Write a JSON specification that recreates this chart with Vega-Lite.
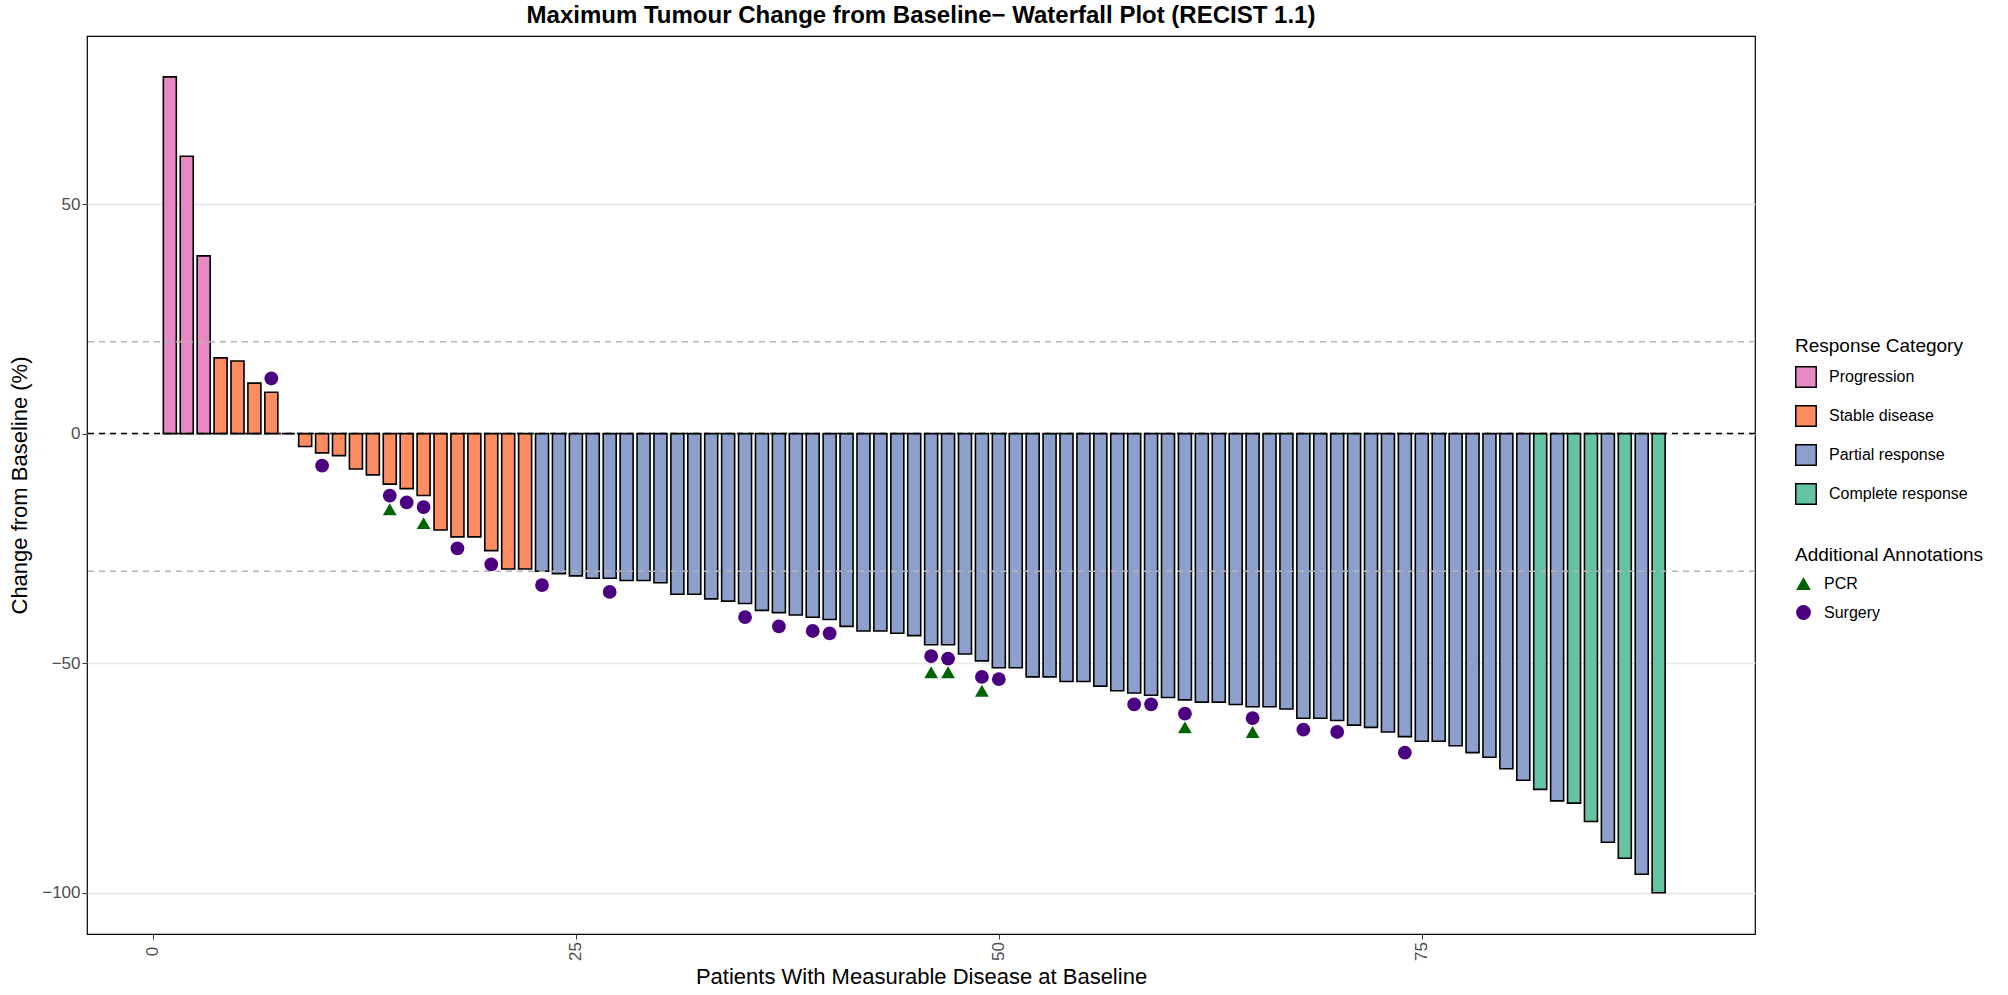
{
  "$schema": "https://vega.github.io/schema/vega-lite/v6.json",
  "width": 1668,
  "height": 898,
  "padding": {"left": 8, "top": 4, "right": 10, "bottom": 5},
  "background": "white",
  "title": {"text": "Maximum Tumour Change from Baseline\u2212 Waterfall Plot (RECIST 1.1)", "font": "Liberation Sans", "fontSize": 24, "fontWeight": "bold", "color": "black", "offset": 8},
  "datasets": {
    "bars": [
      {"p": 1, "v": 77.7, "cat": "Progression"}, {"p": 2, "v": 60.4, "cat": "Progression"}, {"p": 3, "v": 38.7, "cat": "Progression"},
      {"p": 4, "v": 16.5, "cat": "Stable disease"}, {"p": 5, "v": 15.8, "cat": "Stable disease"}, {"p": 6, "v": 11, "cat": "Stable disease"},
      {"p": 7, "v": 9, "cat": "Stable disease"}, {"p": 8, "v": 0, "cat": "Stable disease"}, {"p": 9, "v": -2.8, "cat": "Stable disease"},
      {"p": 10, "v": -4.2, "cat": "Stable disease"}, {"p": 11, "v": -4.8, "cat": "Stable disease"}, {"p": 12, "v": -7.7, "cat": "Stable disease"},
      {"p": 13, "v": -9, "cat": "Stable disease"}, {"p": 14, "v": -11, "cat": "Stable disease"}, {"p": 15, "v": -12, "cat": "Stable disease"},
      {"p": 16, "v": -13.5, "cat": "Stable disease"}, {"p": 17, "v": -21, "cat": "Stable disease"}, {"p": 18, "v": -22.5, "cat": "Stable disease"},
      {"p": 19, "v": -22.5, "cat": "Stable disease"}, {"p": 20, "v": -25.5, "cat": "Stable disease"}, {"p": 21, "v": -29.5, "cat": "Stable disease"},
      {"p": 22, "v": -29.5, "cat": "Stable disease"},
      {"p": 23, "v": -30, "cat": "Partial response"}, {"p": 24, "v": -30.5, "cat": "Partial response"}, {"p": 25, "v": -31, "cat": "Partial response"},
      {"p": 26, "v": -31.5, "cat": "Partial response"}, {"p": 27, "v": -31.5, "cat": "Partial response"}, {"p": 28, "v": -32, "cat": "Partial response"},
      {"p": 29, "v": -32, "cat": "Partial response"}, {"p": 30, "v": -32.5, "cat": "Partial response"}, {"p": 31, "v": -35, "cat": "Partial response"},
      {"p": 32, "v": -35, "cat": "Partial response"}, {"p": 33, "v": -36, "cat": "Partial response"}, {"p": 34, "v": -36.5, "cat": "Partial response"},
      {"p": 35, "v": -37, "cat": "Partial response"}, {"p": 36, "v": -38.5, "cat": "Partial response"}, {"p": 37, "v": -39, "cat": "Partial response"},
      {"p": 38, "v": -39.5, "cat": "Partial response"}, {"p": 39, "v": -40, "cat": "Partial response"}, {"p": 40, "v": -40.5, "cat": "Partial response"},
      {"p": 41, "v": -42, "cat": "Partial response"}, {"p": 42, "v": -43, "cat": "Partial response"}, {"p": 43, "v": -43, "cat": "Partial response"},
      {"p": 44, "v": -43.5, "cat": "Partial response"}, {"p": 45, "v": -44, "cat": "Partial response"}, {"p": 46, "v": -46, "cat": "Partial response"},
      {"p": 47, "v": -46, "cat": "Partial response"}, {"p": 48, "v": -48, "cat": "Partial response"}, {"p": 49, "v": -49.5, "cat": "Partial response"},
      {"p": 50, "v": -51, "cat": "Partial response"}, {"p": 51, "v": -51, "cat": "Partial response"}, {"p": 52, "v": -53, "cat": "Partial response"},
      {"p": 53, "v": -53, "cat": "Partial response"}, {"p": 54, "v": -54, "cat": "Partial response"}, {"p": 55, "v": -54, "cat": "Partial response"},
      {"p": 56, "v": -55, "cat": "Partial response"}, {"p": 57, "v": -56, "cat": "Partial response"}, {"p": 58, "v": -56.5, "cat": "Partial response"},
      {"p": 59, "v": -57, "cat": "Partial response"}, {"p": 60, "v": -57.5, "cat": "Partial response"}, {"p": 61, "v": -58, "cat": "Partial response"},
      {"p": 62, "v": -58.5, "cat": "Partial response"}, {"p": 63, "v": -58.5, "cat": "Partial response"}, {"p": 64, "v": -59, "cat": "Partial response"},
      {"p": 65, "v": -59.5, "cat": "Partial response"}, {"p": 66, "v": -59.5, "cat": "Partial response"}, {"p": 67, "v": -60, "cat": "Partial response"},
      {"p": 68, "v": -62, "cat": "Partial response"}, {"p": 69, "v": -62, "cat": "Partial response"}, {"p": 70, "v": -62.5, "cat": "Partial response"},
      {"p": 71, "v": -63.5, "cat": "Partial response"}, {"p": 72, "v": -64, "cat": "Partial response"}, {"p": 73, "v": -65, "cat": "Partial response"},
      {"p": 74, "v": -66, "cat": "Partial response"}, {"p": 75, "v": -67, "cat": "Partial response"}, {"p": 76, "v": -67, "cat": "Partial response"},
      {"p": 77, "v": -68, "cat": "Partial response"}, {"p": 78, "v": -69.5, "cat": "Partial response"}, {"p": 79, "v": -70.5, "cat": "Partial response"},
      {"p": 80, "v": -73, "cat": "Partial response"}, {"p": 81, "v": -75.5, "cat": "Partial response"}, {"p": 82, "v": -77.5, "cat": "Complete response"},
      {"p": 83, "v": -80, "cat": "Partial response"}, {"p": 84, "v": -80.5, "cat": "Complete response"}, {"p": 85, "v": -84.5, "cat": "Complete response"},
      {"p": 86, "v": -89, "cat": "Partial response"}, {"p": 87, "v": -92.5, "cat": "Complete response"}, {"p": 88, "v": -96, "cat": "Partial response"},
      {"p": 89, "v": -100, "cat": "Complete response"}
    ],
    "marks": [
      {"p": 7, "v": 12, "type": "Surgery"},
      {"p": 10, "v": -7, "type": "Surgery"},
      {"p": 14, "v": -13.5, "type": "Surgery"}, {"p": 14, "v": -16.5, "type": "PCR"},
      {"p": 15, "v": -15, "type": "Surgery"},
      {"p": 16, "v": -16, "type": "Surgery"}, {"p": 16, "v": -19.5, "type": "PCR"},
      {"p": 18, "v": -25, "type": "Surgery"},
      {"p": 20, "v": -28.5, "type": "Surgery"},
      {"p": 23, "v": -33, "type": "Surgery"},
      {"p": 27, "v": -34.5, "type": "Surgery"},
      {"p": 35, "v": -40, "type": "Surgery"},
      {"p": 37, "v": -42, "type": "Surgery"},
      {"p": 39, "v": -43, "type": "Surgery"},
      {"p": 40, "v": -43.5, "type": "Surgery"},
      {"p": 46, "v": -48.5, "type": "Surgery"}, {"p": 46, "v": -52, "type": "PCR"},
      {"p": 47, "v": -49, "type": "Surgery"}, {"p": 47, "v": -52, "type": "PCR"},
      {"p": 49, "v": -53, "type": "Surgery"}, {"p": 49, "v": -56, "type": "PCR"},
      {"p": 50, "v": -53.5, "type": "Surgery"},
      {"p": 58, "v": -59, "type": "Surgery"},
      {"p": 59, "v": -59, "type": "Surgery"},
      {"p": 61, "v": -61, "type": "Surgery"}, {"p": 61, "v": -64, "type": "PCR"},
      {"p": 65, "v": -62, "type": "Surgery"}, {"p": 65, "v": -65, "type": "PCR"},
      {"p": 68, "v": -64.5, "type": "Surgery"},
      {"p": 70, "v": -65, "type": "Surgery"},
      {"p": 74, "v": -69.5, "type": "Surgery"}
    ],
    "refs": [
      {"v": 20, "kind": "threshold"}, {"v": -30, "kind": "threshold"}, {"v": 0, "kind": "zero"}
    ]
  },
  "layer": [
    {
      "data": {"name": "bars"},
      "mark": {"type": "bar", "width": 13, "stroke": "black", "strokeWidth": 1.6},
      "encoding": {
        "x": {"field": "p", "type": "quantitative", "scale": {"domain": [-3.6, 94.4], "nice": false, "zero": false},
          "axis": {"values": [0, 25, 50, 75], "title": "Patients With Measurable Disease at Baseline", "labelAngle": -90, "labelAlign": "center", "labelBaseline": "middle", "labelPadding": 12, "grid": false}},
        "y": {"field": "v", "type": "quantitative", "scale": {"domain": [-109, 86.6], "nice": false},
          "axis": {"values": [50, 0, -50, -100], "title": "Change from Baseline (%)"}},
        "fill": {"field": "cat", "type": "nominal",
          "scale": {"domain": ["Progression", "Stable disease", "Partial response", "Complete response"], "range": ["#E78AC3", "#FC8D62", "#8DA0CB", "#66C2A5"]},
          "legend": {"title": "Response Category", "orient": "none", "legendX": 1703, "legendY": 296, "symbolType": "square", "symbolSize": 420, "symbolStrokeColor": "black", "symbolStrokeWidth": 1.5, "rowPadding": 11}}
      }
    },
    {
      "data": {"name": "refs"},
      "mark": {"type": "rule", "strokeDash": [6, 5], "strokeWidth": 1.5},
      "encoding": {
        "y": {"field": "v", "type": "quantitative"},
        "stroke": {"field": "kind", "type": "nominal", "scale": {"domain": ["threshold", "zero"], "range": ["#b5b5b5", "black"]}, "legend": null}
      }
    },
    {
      "data": {"name": "marks"},
      "mark": {"type": "point", "filled": true, "opacity": 1, "size": 190},
      "encoding": {
        "x": {"field": "p", "type": "quantitative"},
        "y": {"field": "v", "type": "quantitative"},
        "shape": {"field": "type", "type": "nominal", "scale": {"domain": ["PCR", "Surgery"], "range": ["triangle-up", "circle"]}, "legend": {"title": "Additional Annotations", "orient": "none", "legendX": 1703, "legendY": 505}},
        "color": {"field": "type", "type": "nominal", "scale": {"domain": ["PCR", "Surgery"], "range": ["#006400", "#4B0082"]}, "legend": {"title": "Additional Annotations", "orient": "none", "legendX": 1703, "legendY": 505}}
      }
    }
  ],
  "config": {
    "font": "Liberation Sans",
    "view": {"stroke": "black", "strokeWidth": 1.2},
    "axis": {"labelFontSize": 17, "labelColor": "#4d4d4d", "titleFontSize": 22, "titleFontWeight": "normal", "titleColor": "black", "domain": false, "tickColor": "#333", "tickSize": 5, "gridColor": "#e6e6e6", "gridWidth": 1.5},
    "axisY": {"titlePadding": 10},
    "axisX": {"titlePadding": 6},
    "legend": {"titleFontSize": 19, "titleFontWeight": "normal", "titleLimit": 0, "labelLimit": 0, "titlePadding": 10, "labelFontSize": 16, "labelOffset": 12, "rowPadding": 12, "symbolSize": 220, "padding": 5}
  }
}
